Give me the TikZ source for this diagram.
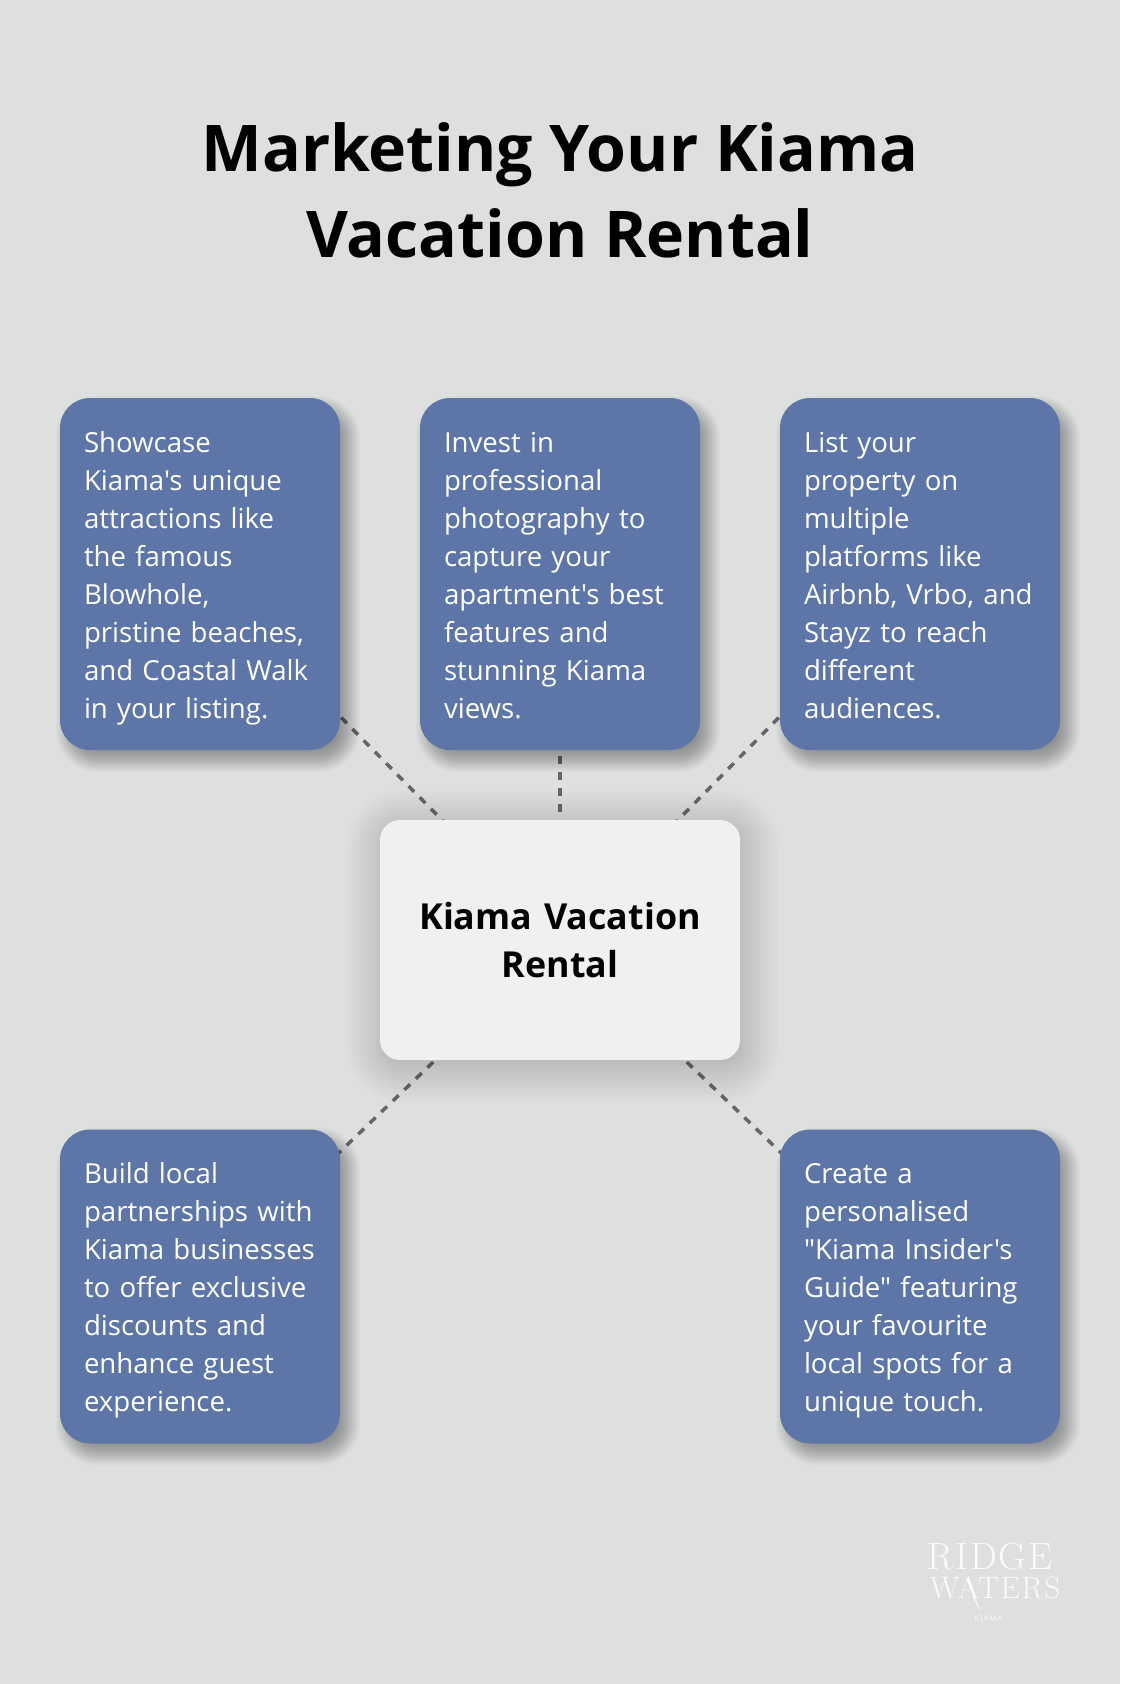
\documentclass[tikz,border=0pt]{standalone}
\usepackage{fontspec}
\setmainfont{Open Sans}[Ligatures=TeXOff]
\newfontfamily\logofont{Latin Modern Roman}[LetterSpace=5]
\newfontfamily\logosmall{Open Sans}[LetterSpace=10]
\usetikzlibrary{backgrounds,calc}
\definecolor{pagegrey}{HTML}{DEE0DF}
\definecolor{cardblue}{HTML}{5D76A7}
\definecolor{hubwhite}{HTML}{EEF0F2}
\definecolor{linkgrey}{HTML}{666666}
\tikzset{
    card/.style={fill=cardblue,text=white,rounded corners=30pt,minimum width=280pt,text width=232pt,inner sep=24pt,align=left,
        font=\fontsize{27.6}{38}\selectfont,
        execute at begin node={\rule{0pt}{30pt}},execute at end node={\rule[-8pt]{0pt}{8pt}}},
    hub/.style={fill=hubwhite,rounded corners=20pt,minimum width=360pt,minimum height=240pt,text width=312pt,align=center,
        font=\fontsize{35.8}{48}\selectfont\bfseries,
        execute at begin node={\rule{0pt}{36pt}},execute at end node={\rule[-10pt]{0pt}{10pt}}},
    link/.style={draw=linkgrey,line width=3.5pt,dash pattern=on 8pt off 8pt},
    titletext/.style={font=\fontsize{64.4}{86}\selectfont\bfseries,align=center},
    logotext/.style={text=white,opacity=0.85,inner sep=0pt}
}
\newcommand{\softshadow}[6]{
    \foreach \k in {0,...,29}{
        \pgfmathsetmacro\sprd{#4*(1-\k/15)}
        \pgfmathsetmacro\rad{max(#5+\sprd,2)}
        \fill[black,opacity=#6,rounded corners=\rad pt] ($(#1.south west)+(#2-\sprd,#3+\sprd)$) rectangle ($(#1.north east)+(#2+\sprd,#3-\sprd)$);
    }
}
\begin{document}
\begin{tikzpicture}[x=1pt,y=-1pt]
    \useasboundingbox (0,0) rectangle (1120,1684);
    \node[titletext] (title) at (560,190) {Marketing Your Kiama\\Vacation Rental};
    \node[hub] (rental) at (560,940) {Kiama Vacation\\Rental};
    \node[card,minimum height=352pt] (attractions) at (200,574) {Showcase\\Kiama's unique\\attractions like\\the famous\\Blowhole,\\pristine beaches,\\and Coastal Walk\\in your listing.};
    \node[card,minimum height=352pt] (photos) at (560,574) {Invest in\\professional\\photography to\\capture your\\apartment's best\\features and\\stunning Kiama\\views.};
    \node[card,minimum height=352pt] (platforms) at (920,574) {List your\\property on\\multiple\\platforms like\\Airbnb, Vrbo, and\\Stayz to reach\\different\\audiences.};
    \node[card,minimum height=314pt] (partners) at (200,1286.5) {Build local\\partnerships with\\Kiama businesses\\to offer exclusive\\discounts and\\enhance guest\\experience.};
    \node[card,minimum height=314pt] (guide) at (920,1286.5) {Create a\\personalised\\"Kiama Insider's\\Guide" featuring\\your favourite\\local spots for a\\unique touch.};
    \begin{pgfonlayer}{background}
        \fill[pagegrey] (0,0) rectangle (1120,1684);
        \foreach \other in {attractions,photos,platforms,partners,guide}{
            \draw[link] (rental.center) -- (\other.center);
        }
        \foreach \other in {attractions,photos,platforms,partners,guide}{
            \softshadow{\other}{8}{10}{12}{30}{0.012}
        }
        \softshadow{rental}{3}{6}{36}{20}{0.008}
    \end{pgfonlayer}
    \node[logotext,font=\logofont\fontsize{38}{38}\selectfont] (ridge) at (990,1557) {RIDGE};
    \node[logotext,font=\logofont\fontsize{31}{31}\selectfont] (waters) at (995,1587.5) {WATERS};
    \node[logotext,font=\logosmall\fontsize{8}{8}\selectfont] (kiama) at (988.5,1619) {KIAMA};
    \fill[white,opacity=0.85] (966,1578) -- (967.5,1578) -- (979.5,1609) -- (978.5,1609) -- cycle;
\end{tikzpicture}
\end{document}
